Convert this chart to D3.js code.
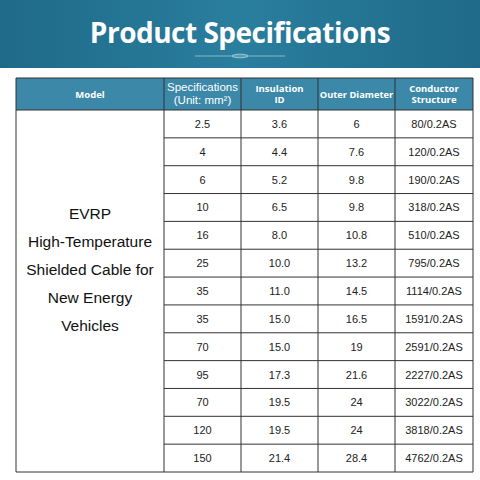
<!DOCTYPE html><html><head><meta charset="utf-8"><script src="https://cdn.jsdelivr.net/npm/d3@7"></script>
<style>body{margin:0;background:#fff}</style></head><body><svg id="c" width="480" height="480"></svg>
<script>
const headers=["Model","Specifications|(Unit: mm²)","Insulation|ID","Outer Diameter","Conductor|Structure"];
const modelLines=["EVRP","High-Temperature","Shielded Cable for","New Energy","Vehicles"];
const specs=["2.5","4","6","10","16","25","35","35","70","95","70","120","150"];
const insulation=["3.6","4.4","5.2","6.5","8.0","10.0","11.0","15.0","15.0","17.3","19.5","19.5","21.4"];
const outer=["6","7.6","9.8","9.8","10.8","13.2","14.5","16.5","19","21.6","24","24","28.4"];
const conductor=["80/0.2AS","120/0.2AS","190/0.2AS","318/0.2AS","510/0.2AS","795/0.2AS","1114/0.2AS","1591/0.2AS","2591/0.2AS","2227/0.2AS","3022/0.2AS","3818/0.2AS","4762/0.2AS"];
const svg=d3.select("#c");
const defs=svg.append("defs");
const g=defs.append("linearGradient").attr("id","bg").attr("x1",0).attr("x2",1);
g.append("stop").attr("offset","0").attr("stop-color","#1f6a88");
g.append("stop").attr("offset","0.5").attr("stop-color","#2a7e9e");
g.append("stop").attr("offset","1").attr("stop-color","#1f6a88");
svg.append("rect").attr("width",480).attr("height",68).attr("fill","url(#bg)");
svg.append("text").attr("x",240).attr("y",43).attr("text-anchor","middle").attr("fill","#fff")
 .attr("font-family","Open Sans").attr("font-weight",700).attr("font-size",28).attr("letter-spacing",-0.5).text("Product Specifications");
svg.append("line").attr("x1",195).attr("x2",285).attr("y1",56).attr("y2",56).attr("stroke","#9cc8d8").attr("stroke-width",0.8);
svg.append("ellipse").attr("cx",240).attr("cy",56).attr("rx",8).attr("ry",1.8).attr("fill","none").attr("stroke","#b8dbe6").attr("stroke-width",0.8);
const xs=[16,164,241,318,395,473];
const y=d3.scaleBand().domain(d3.range(specs.length)).range([110,472]);
const ff="Liberation Sans, Arial";
svg.append("rect").attr("x",16).attr("y",78).attr("width",457).attr("height",32).attr("fill","#3c88a8");
headers.forEach((h,i)=>{
 const cx=(xs[i]+xs[i+1])/2, lines=h.split("|");
 const fs=i==1?11.5:(i==3?9.3:9.5);
 lines.forEach((l,k)=>svg.append("text").attr("text-anchor","middle").attr("fill","#fff").attr("font-size",fs)
  .attr("font-family",i==1?ff:"Open Sans").attr("font-weight",i==1?400:700)
  .attr("x",cx).attr("y",94+(k-(lines.length-1)/2)*(i==1?13:10.5)+3.5).text(l));
});
const cols=[specs,insulation,outer,conductor];
cols.forEach((arr,ci)=>{
 const cx=(xs[ci+1]+xs[ci+2])/2;
 svg.selectAll(null).data(arr).join("text").attr("x",cx).attr("y",(d,i)=>y(i)+y.bandwidth()/2+4)
  .attr("text-anchor","middle").attr("font-family",ff).attr("font-size",11).attr("fill","#222").text(d=>d);
});
modelLines.forEach((l,k)=>svg.append("text").attr("text-anchor","middle").attr("font-family",ff).attr("font-size",15.5).attr("fill","#111")
 .attr("x",90).attr("y",219+k*28).text(l));
svg.selectAll(null).data(d3.range(1,specs.length)).join("line").attr("x1",164).attr("x2",473)
 .attr("y1",d=>y(d)).attr("y2",d=>y(d)).attr("stroke","#333").attr("stroke-width",1);
xs.forEach(x=>svg.append("line").attr("x1",x).attr("x2",x).attr("y1",78).attr("y2",472).attr("stroke","#333").attr("stroke-width",1));
[78,110,472].forEach(v=>svg.append("line").attr("x1",16).attr("x2",473).attr("y1",v).attr("y2",v).attr("stroke","#333").attr("stroke-width",1));
</script></body></html>
